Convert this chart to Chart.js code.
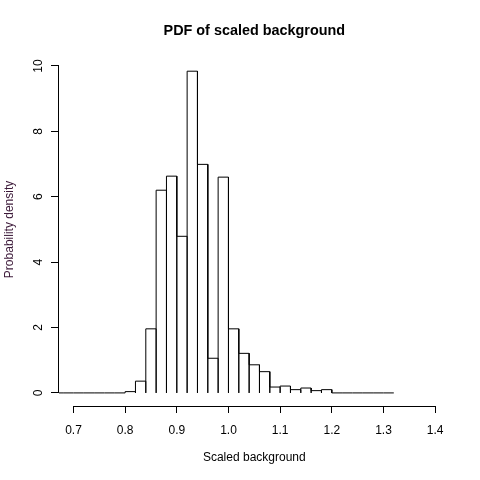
<!DOCTYPE html>
<html>
<head>
<meta charset="utf-8">
<title>PDF of scaled background</title>
<script src="https://cdn.jsdelivr.net/npm/chart.js@4.4.1/dist/chart.umd.min.js"></script>
<style>
  html, body { margin: 0; padding: 0; background: #fff; }
  canvas { display: block; }
</style>
</head>
<body>
<canvas id="histChart" width="480" height="480"></canvas>
<script>
"use strict";
// bin edges of the histogram (width 0.02), one more than the bins
const binEdges = [0.66, 0.68, 0.70, 0.72, 0.74, 0.76, 0.78, 0.80, 0.82, 0.84, 0.86,
    0.88, 0.90, 0.92, 0.94, 0.96, 0.98, 1.00, 1.02, 1.04, 1.06, 1.08, 1.10,
    1.12, 1.14, 1.16, 1.18, 1.20, 1.22, 1.24, 1.26, 1.28, 1.30, 1.32];
// probability density of each bin
const densities = [0, 0, 0, 0, 0, 0, 0, 0.04, 0.36, 1.96, 6.20,
    6.63, 4.79, 9.84, 6.99, 1.06, 6.60, 1.96, 1.21, 0.86, 0.65, 0.18,
    0.21, 0.10, 0.15, 0.07, 0.10, 0, 0, 0, 0, 0, 0];
const xTickValues = [0.7, 0.8, 0.9, 1.0, 1.1, 1.2, 1.3, 1.4];
const yTickValues = [0, 2, 4, 6, 8, 10];

const FONT = "'Liberation Sans', Arial, Helvetica, sans-serif";

// outline of every bin rectangle, walked left to right
function buildOutline(edges, heights) {
    const pts = [{ x: edges[0], y: 0 }];
    heights.forEach((h, i) => {
        pts.push({ x: edges[i], y: h });
        pts.push({ x: edges[i + 1], y: h });
        pts.push({ x: edges[i + 1], y: 0 });
    });
    return pts;
}

// R style axes: the line only runs from first to last tick
const axisLines = {
    id: 'axisLines',
    afterDraw(chart) {
        const { ctx, chartArea, scales } = chart;
        const xs = scales.x;
        const ys = scales.y;
        const by = Math.round(chartArea.bottom) + 0.5;
        const lx = Math.round(chartArea.left) - 0.5;
        ctx.save();
        ctx.strokeStyle = '#000';
        ctx.lineWidth = 1;
        ctx.beginPath();
        ctx.moveTo(xs.getPixelForValue(xTickValues[0]), by);
        ctx.lineTo(xs.getPixelForValue(xTickValues[xTickValues.length - 1]), by);
        ctx.moveTo(lx, ys.getPixelForValue(yTickValues[0]));
        ctx.lineTo(lx, ys.getPixelForValue(yTickValues[yTickValues.length - 1]));
        ctx.stroke();
        ctx.restore();
    }
};

const ctx = document.getElementById('histChart');
new Chart(ctx, {
    type: 'scatter',
    data: {
        datasets: [{
            label: 'Scaled background',
            data: buildOutline(binEdges, densities),
            showLine: true,
            borderColor: '#000',
            borderWidth: 1,
            pointRadius: 0,
            fill: false,
            tension: 0
        }]
    },
    options: {
        responsive: false,
        animation: false,
        devicePixelRatio: 1,
        layout: {
            padding: { left: 0, right: 30.4, top: 0, bottom: 0 }
        },
        plugins: {
            legend: { display: false },
            tooltip: { enabled: false },
            title: {
                display: true,
                text: 'PDF of scaled background',
                fullSize: false,
                color: '#000',
                font: { family: FONT, size: 14.4, weight: 'bold', lineHeight: 1.2 },
                padding: { top: 22.4, bottom: 13.2 }
            }
        },
        scales: {
            x: {
                type: 'linear',
                min: 0.672,
                max: 1.428,
                afterBuildTicks: (scale) => {
                    scale.ticks = xTickValues.map((v) => ({ value: v }));
                },
                afterFit: (scale) => {
                    scale.height = 74;
                },
                border: { display: false },
                grid: {
                    display: true,
                    drawOnChartArea: false,
                    drawTicks: true,
                    tickLength: 7,
                    color: '#000',
                    lineWidth: 1
                },
                ticks: {
                    color: '#000',
                    font: { family: FONT, size: 12 },
                    padding: 10,
                    maxRotation: 0,
                    autoSkip: false,
                    callback: (v) => Number(v).toFixed(1)
                },
                title: {
                    display: true,
                    text: 'Scaled background',
                    color: '#000',
                    font: { family: FONT, size: 12, lineHeight: 1.2 },
                    padding: { top: 0, bottom: 14.8 }
                }
            },
            y: {
                type: 'linear',
                min: -0.4,
                max: 10.4,
                afterBuildTicks: (scale) => {
                    scale.ticks = yTickValues.map((v) => ({ value: v }));
                },
                afterFit: (scale) => {
                    scale.width = 59;
                },
                border: { display: false },
                grid: {
                    display: true,
                    drawOnChartArea: false,
                    drawTicks: true,
                    tickLength: 8,
                    color: '#000',
                    lineWidth: 1
                },
                ticks: {
                    color: '#000',
                    font: { family: FONT, size: 12 },
                    padding: 6,
                    minRotation: 90,
                    maxRotation: 90,
                    crossAlign: 'center',
                    autoSkip: false,
                    callback: (v) => String(v)
                },
                title: {
                    display: true,
                    text: 'Probability density',
                    color: '#3b1838',
                    font: { family: FONT, size: 12, lineHeight: 1.2 },
                    padding: { top: 2, bottom: 0 }
                }
            }
        }
    },
    plugins: [axisLines]
});
</script>
</body>
</html>
